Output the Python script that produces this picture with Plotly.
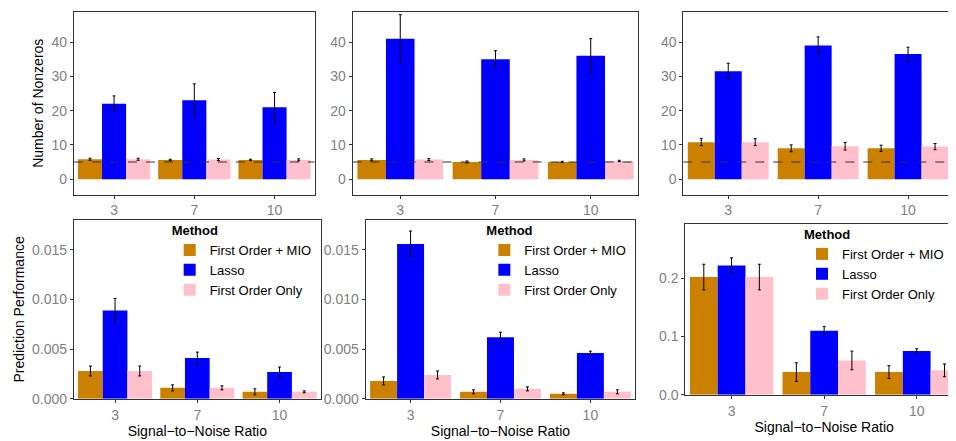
import plotly.graph_objects as go

snr = ["3", "7", "10"]
methods = ["First Order + MIO", "Lasso", "First Order Only"]
colors = ["#CC8000", "#0000FF", "#FFC0CB"]

# number of nonzeros (top row), one list per method per panel
nz_vals = [
    [[5.8, 5.6, 5.6], [22, 23, 21], [5.8, 5.7, 5.6]],
    [[5.6, 5.0, 5.0], [41, 35, 36], [5.7, 5.6, 5.3]],
    [[10.8, 9.0, 9.0], [31.5, 39, 36.5], [10.8, 9.6, 9.5]],
]
nz_errs = [
    [[0.3, 0.2, 0.2], [2.3, 4.8, 4.3], [0.3, 0.3, 0.3]],
    [[0.3, 0.3, 0.2], [7, 2.5, 5], [0.3, 0.3, 0.2]],
    [[1.0, 1.0, 0.9], [2.3, 2.5, 2.0], [1.0, 1.1, 0.9]],
]
# prediction performance (bottom row)
pp_vals = [
    [[0.0028, 0.0011, 0.0007], [0.0089, 0.0041, 0.0027], [0.0028, 0.0011, 0.0007]],
    [[0.0018, 0.0007, 0.0005], [0.0156, 0.0062, 0.0046], [0.0024, 0.0010, 0.0007]],
    [[0.202, 0.039, 0.039], [0.222, 0.110, 0.075], [0.202, 0.059, 0.042]],
]
pp_errs = [
    [[0.0005, 0.0003, 0.0003], [0.0012, 0.0006, 0.0005], [0.0005, 0.0002, 0.0001]],
    [[0.0004, 0.0002, 0.0001], [0.0013, 0.0005, 0.0002], [0.0004, 0.0002, 0.0002]],
    [[0.022, 0.016, 0.011], [0.013, 0.007, 0.004], [0.022, 0.016, 0.011]],
]
true_k = 5

W, H = 956, 441
def fx(p): return p / W
def fy(p): return 1 - p / H

# pixel boxes: left, right, top, bottom
boxes = [
    (66, 307, 4, 190), (345, 631, 4, 190), (676, 946, 4, 190),
    (66, 313, 216, 398), (358, 628, 216, 398), (678, 956, 220, 394),
]
yranges = [[-4.5, 48.8]] * 3 + [[0, 0.018], [0, 0.018], [0, 0.293]]
yformats = [None, None, None, ".3f", ".3f", ".1f"]

fig = go.Figure()
font = dict(family="Liberation Sans, Arial", size=14, color="black")
tickfont = dict(family="Liberation Sans, Arial", size=14, color="#7f7f7f")

for i in range(6):
    n = i + 1
    xa = "x" if n == 1 else "x%d" % n
    ya = "y" if n == 1 else "y%d" % n
    vals = nz_vals[i] if i < 3 else pp_vals[i - 3]
    errs = nz_errs[i] if i < 3 else pp_errs[i - 3]
    leg = None
    if i >= 3:
        leg = "legend" if i == 3 else "legend%d" % (i - 2)
    for m in range(3):
        kw = dict(x=snr, y=vals[m], name=methods[m], marker_color=colors[m],
                  marker_line_width=0,
                  error_y=dict(type="data", array=errs[m], color="black", thickness=1, width=1.5),
                  xaxis=xa, yaxis=ya, showlegend=leg is not None)
        if leg:
            kw["legend"] = leg
        fig.add_trace(go.Bar(**kw))
    l, r, t, b = boxes[i]
    axk = "xaxis" if n == 1 else "xaxis%d" % n
    ayk = "yaxis" if n == 1 else "yaxis%d" % n
    fig.layout[axk] = dict(domain=[fx(l), fx(r)], anchor=ya, tickfont=tickfont,
                           showline=True, mirror=True, linecolor="#333", linewidth=1,
                           ticks="outside", ticklen=3, tickcolor="#333",
                           title=dict(text="Signal−to−Noise Ratio", font=font, standoff=0) if i >= 3 else None)
    fig.layout[ayk] = dict(domain=[fy(b), fy(t)], anchor=xa, range=yranges[i], tickfont=tickfont,
                           showline=True, mirror=True, linecolor="#333", linewidth=1,
                           ticks="outside", ticklen=3, tickcolor="#333", showgrid=False, zeroline=False,
                           tickformat=yformats[i], dtick=0.1 if i == 5 else None)
    if i < 3:
        fig.add_shape(type="line", x0=0, x1=1, y0=true_k, y1=true_k,
                      xref="%s domain" % xa, yref=ya,
                      line=dict(dash="dash", color="#333", width=1))
    else:
        lk = "legend" if i == 3 else "legend%d" % (i - 2)
        fig.layout[lk] = dict(x=fx(r - (14 if i == 5 else 4)), xanchor="right", y=fy(t - 2), yanchor="top",
                              bgcolor="rgba(0,0,0,0)",
                              font=dict(family="Liberation Sans, Arial", size=13),
                              title=dict(text="<b>Method</b>", font=dict(size=13)),
                              tracegroupgap=0, itemwidth=30)

fig.layout.yaxis.title = dict(text="Number of Nonzeros", font=font, standoff=4)
fig.layout.yaxis4.title = dict(text="Prediction Performance", font=font, standoff=4)

fig.update_layout(width=W, height=H, margin=dict(l=0, r=0, t=0, b=0),
                  plot_bgcolor="white", paper_bgcolor="white",
                  barmode="group", bargap=0.1, bargroupgap=0, font=font)

fig.write_html("out.html")
